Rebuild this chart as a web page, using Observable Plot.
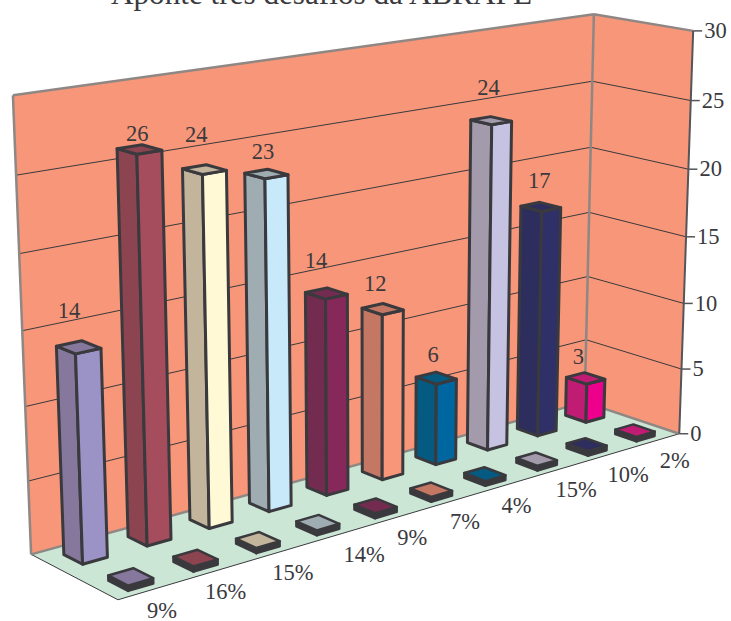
<!DOCTYPE html>
<html lang="pt">
<head>
<meta charset="utf-8">
<script src="https://cdn.jsdelivr.net/npm/d3@7"></script>
<script src="https://cdn.jsdelivr.net/npm/@observablehq/plot@0.6"></script>
<style>
  html, body { margin: 0; background: #fff; }
  svg { display: block; }
</style>
</head>
<body>
<div id="chart"></div>
<script>
// Chart data
const chartTitle = "Aponte três desafios da ABRAPE";
const counts = [14, 26, 24, 23, 14, 12, 6, 24, 17, 3];
const shares = ["9%", "16%", "15%", "14%", "9%", "7%", "4%", "15%", "10%", "2%"];
const axisTicks = [0, 5, 10, 15, 20, 25, 30];
const sideColors = ["#85789c", "#8c4450", "#c2b59b", "#9fadb3", "#742b50", "#c47864", "#045a80", "#a39aab", "#2e2e5e", "#c01c74"];
const frontColors = ["#9b92c6", "#a54d5d", "#fff9d6", "#c7e9fa", "#86295a", "#f79678", "#0066a0", "#c6c3e2", "#2f3068", "#ec008c"];

const valueMax = 30;
const width = 731, height = 621;
const ink = "#3a3a3e";
const serif = "Liberation Serif";

// Perspective camera: fitted from where the box corners land on the page.
// Each row is [across, depth, height, pageX, pageY], box coordinates in 0..1.
const cameraCorners = [
  [0, 0, 0, 118, 600], [1, 0, 0, 678, 433], [0, 1, 0, 30, 553], [1, 1, 0, 585, 402],
  [1, 0, 1, 693, 30], [0, 1, 1, 12.5, 95], [1, 1, 1, 593, 14]
];
function solve(A, b) {
  const n = b.length, M = A.map((r, i) => [...r, b[i]]);
  for (let c = 0; c < n; c++) {
    let p = c;
    for (let r = c + 1; r < n; r++) if (Math.abs(M[r][c]) > Math.abs(M[p][c])) p = r;
    [M[c], M[p]] = [M[p], M[c]];
    for (let r = 0; r < n; r++) {
      if (r === c) continue;
      const f = M[r][c] / M[c][c];
      for (let k = c; k <= n; k++) M[r][k] -= f * M[c][k];
    }
  }
  return M.map((r, i) => r[n] / r[i]);
}
const camera = (() => {
  const rows = [], rhs = [];
  for (const [u, w, v, x, y] of cameraCorners) {
    const X = x / 1000, Y = y / 1000;
    rows.push([u, w, v, 1, 0, 0, 0, 0, -X * u, -X * w, -X * v]); rhs.push(X);
    rows.push([0, 0, 0, 0, u, w, v, 1, -Y * u, -Y * w, -Y * v]); rhs.push(Y);
  }
  const AtA = d3.range(11).map(i => d3.range(11).map(j => d3.sum(rows, r => r[i] * r[j])));
  const Atb = d3.range(11).map(i => d3.sum(rows, (r, k) => r[i] * rhs[k]));
  return solve(AtA, Atb);
})();
function project(u, w, value) {
  const v = value / valueMax, m = camera;
  const d = m[8] * u + m[9] * w + m[10] * v + 1;
  return [
    1000 * (m[0] * u + m[1] * w + m[2] * v + m[3]) / d,
    1000 * (m[4] * u + m[5] * w + m[6] * v + m[7]) / d
  ];
}

// Polygons are flat lists of vertices that share a face id
let faceId = 0;
function face(corners, fill) {
  const id = faceId++;
  return corners.map(([u, w, value]) => {
    const [x, y] = project(u, w, value);
    return {id, x, y, fill};
  });
}
function segment(a, b) {
  const [x1, y1] = project(...a), [x2, y2] = project(...b);
  return {x1, y1, x2, y2};
}
function box(c, du, w0, w1, top, side, front, lid) {
  const a = c - du, b = c + du;
  return [
    face([[a, w1, 0], [a, w0, 0], [a, w0, top], [a, w1, top]], side),
    face([[a, w0, 0], [b, w0, 0], [b, w0, top], [a, w0, top]], front),
    face([[a, w1, top], [a, w0, top], [b, w0, top], [b, w1, top]], lid)
  ].flat();
}
const slot = i => (i + 0.5) / counts.length;

const walls = [
  face([[0, 1, 0], [1, 1, 0], [1, 1, valueMax], [0, 1, valueMax]], "#f79678"),
  face([[1, 1, 0], [1, 0, 0], [1, 0, valueMax], [1, 1, valueMax]], "#f79678"),
  face([[0, 0, 0], [1, 0, 0], [1, 1, 0], [0, 1, 0]], "#cce6d5")
].flat();

const grid = axisTicks.filter(t => t > 0 && t < valueMax).flatMap(t => [
  segment([0, 1, t], [1, 1, t]),
  segment([1, 1, t], [1, 0, t])
]);
const greyEdges = [
  segment([0, 1, 0], [0, 1, valueMax]),
  segment([0, 1, valueMax], [1, 1, valueMax]),
  segment([1, 1, 0], [1, 1, valueMax]),
  segment([1, 1, valueMax], [1, 0, valueMax]),
  segment([0, 1, 0], [1, 1, 0]),
  segment([1, 1, 0], [1, 0, 0])
];
const darkEdges = [
  segment([1, 0, 0], [1, 0, valueMax])
];
const floorEdges = [
  segment([0, 1, 0], [0, 0, 0]),
  segment([0, 0, 0], [1, 0, 0])
];

const bars = counts.flatMap((n, i) => box(slot(i) + 0.001, 0.019, 0.64, 0.86, n, sideColors[i], frontColors[i], sideColors[i]));
const keys = counts.flatMap((n, i) => box(slot(i) - 0.005, 0.019, 0.08, 0.30, 0.35, ink, ink, sideColors[i]));

const ticks = axisTicks.map(t => {
  const [x, y] = project(1, 0, t);
  return {t, x, y};
});

// Labels were placed by hand around the bars, so each keeps its own offset
const countNudgeX = [4, 12, 6, 11, 4, 7, 11, 12, 13, 7];
const countLift = [23, 4, 23, 10, 20, 13, 11, 22, 14, 9];
const countLabels = counts.map((n, i) => {
  const [x, y] = project(slot(i), 0.9, n);
  return {n, x: x + countNudgeX[i], y: y - countLift[i] - 1};
});
const shareNudgeX = [-9, -16, -11, 0, -4, -7, -9, -7, -5, -1];
const shareLabels = shares.map((s, i) => {
  const [x, y] = project(slot(i), -0.05, 0);
  return {s, x: x + shareNudgeX[i], y: y + 18.5};
});

const chart = Plot.plot({
  width, height,
  margin: 0,
  x: {domain: [0, width], range: [0, width], axis: null},
  y: {domain: [0, height], range: [0, height], axis: null},
  color: {type: "identity"},
  style: {background: "#fff", fontFamily: serif},
  marks: [
    Plot.line(walls, {x: "x", y: "y", z: "id", fill: "fill", stroke: null, curve: "linear-closed"}),
    Plot.link(grid, {x1: "x1", y1: "y1", x2: "x2", y2: "y2", stroke: ink, strokeWidth: 1}),
    Plot.link(floorEdges, {x1: "x1", y1: "y1", x2: "x2", y2: "y2", stroke: ink, strokeWidth: 1}),
    Plot.link(greyEdges, {x1: "x1", y1: "y1", x2: "x2", y2: "y2", stroke: "#8f8784", strokeWidth: 2.5}),
    Plot.link(darkEdges, {x1: "x1", y1: "y1", x2: "x2", y2: "y2", stroke: "#55555a", strokeWidth: 2}),
    Plot.link(ticks, {x1: "x", x2: d => d.x + 9, y1: "y", y2: "y", stroke: "#55555a", strokeWidth: 1.5}),
    Plot.line(keys, {x: "x", y: "y", z: "id", fill: "fill", stroke: ink, strokeWidth: 2.5, curve: "linear-closed"}),
    Plot.line(bars, {x: "x", y: "y", z: "id", fill: "fill", stroke: ink, strokeWidth: 3, curve: "linear-closed"}),
    Plot.text(ticks, {x: d => d.x + 11, y: "y", text: "t", textAnchor: "start", fontSize: 22.5, fontFamily: serif, fill: ink}),
    Plot.text(countLabels, {x: "x", y: "y", text: "n", fontSize: 22.5, fontFamily: serif, fill: ink, lineAnchor: "bottom"}),
    Plot.text(shareLabels, {x: "x", y: "y", text: "s", textAnchor: "start", fontSize: 22.5, fontFamily: serif, fill: ink}),
    Plot.text([chartTitle], {x: [321], y: [3], text: d => d, fontSize: 31.2, fontFamily: serif, fill: ink, lineAnchor: "bottom"})
  ]
});
document.getElementById("chart").append(chart);
</script>
</body>
</html>
